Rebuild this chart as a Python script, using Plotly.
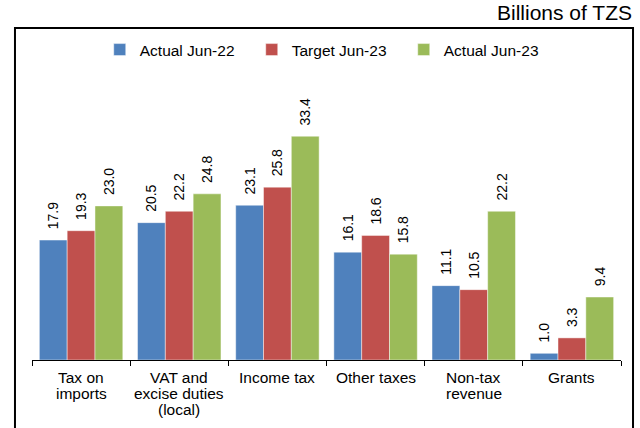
import plotly.graph_objects as go

# ---- data ----
categories = ["Tax on<br>imports", "VAT and<br>excise duties<br>(local)", "Income tax",
              "Other taxes", "Non-tax<br>revenue", "Grants"]
actual_jun22 = [17.9, 20.5, 23.1, 16.1, 11.1, 1.0]
target_jun23 = [19.3, 22.2, 25.8, 18.6, 10.5, 3.3]
actual_jun23 = [23.0, 24.8, 33.4, 15.8, 22.2, 9.4]
series_names = ["Actual Jun-22", "Target Jun-23", "Actual Jun-23"]
unit_label = "Billions of TZS"

colors = ["#4F81BD", "#C0504D", "#9BBB59"]
FONT = "Liberation Sans, Arial, Helvetica, sans-serif"

fig = go.Figure()
for name, vals, col in zip(series_names, [actual_jun22, target_jun23, actual_jun23], colors):
    fig.add_trace(go.Bar(
        x=categories, y=vals, name=name,
        marker=dict(color=col, line=dict(color="rgba(255,255,255,0.45)", width=1)),
        text=["\u00a0\u00a0" + f"{v:.1f}" for v in vals],
        textposition="outside", textangle=-90,
        textfont=dict(size=14, color="black", family=FONT),
        cliponaxis=False, constraintext="none",
    ))

# category labels (tight line spacing like the original)
for cat in categories:
    for j, line in enumerate(cat.split("<br>")):
        fig.add_annotation(x=cat, xref="x", y=0, yref="paper", yanchor="middle",
                           yshift=-(17.8 + 15.7 * j), text=line, showarrow=False,
                           font=dict(size=15.5, color="black", family=FONT))

fig.add_annotation(x=1.0221, xref="paper", y=1.296, yref="paper", xanchor="right",
                   yanchor="middle", text=unit_label, showarrow=False,
                   font=dict(size=21, color="black", family=FONT))

# outer frame
fig.add_shape(type="rect", xref="paper", yref="paper", x0=-0.0289, x1=1.0204,
              y0=-0.3, y1=1.2388, line=dict(color="black", width=2))

fig.update_layout(
    width=640, height=428,
    margin=dict(l=32, r=19, t=92, b=68),
    paper_bgcolor="white", plot_bgcolor="white",
    barmode="group", bargap=0.15, bargroupgap=0,
    font=dict(family=FONT, color="black"),
    showlegend=True,
    legend=dict(orientation="h", x=0.115, xanchor="left", y=1.1567, yanchor="middle",
                font=dict(size=15.5, color="black", family=FONT),
                entrywidth=107, entrywidthmode="pixels",
                bgcolor="rgba(0,0,0,0)"),
    xaxis=dict(showline=True, linecolor="black", linewidth=1, ticks="outside",
               ticklen=5, tickcolor="black", tickson="boundaries",
               showticklabels=False, showgrid=False, zeroline=False),
    yaxis=dict(range=[0, 40], visible=False, showgrid=False, zeroline=False),
)

fig.write_html("out.html", config={"displayModeBar": False},
               post_script="document.body.style.margin='0';")
